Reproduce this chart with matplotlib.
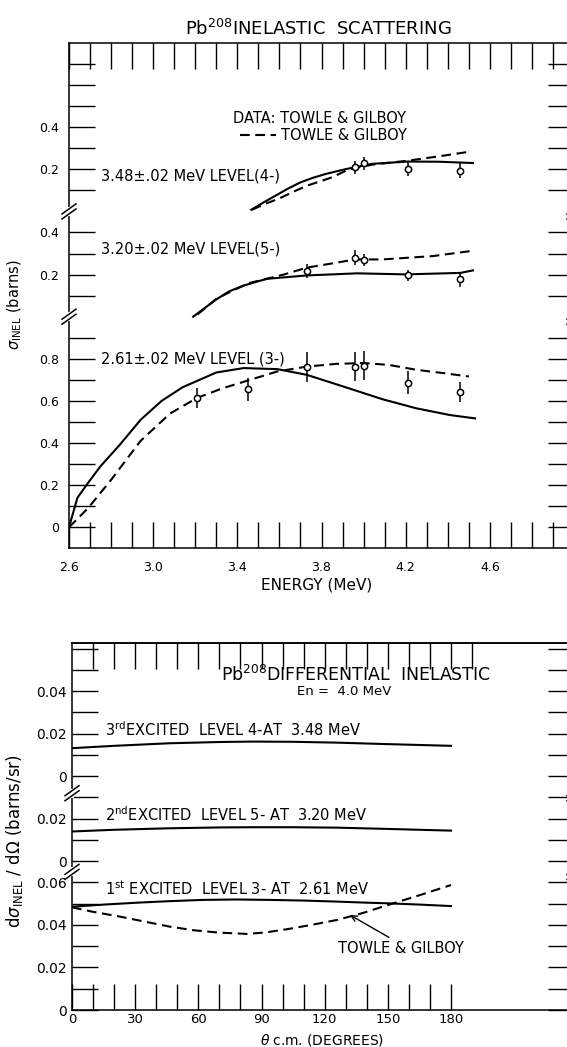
import matplotlib.pyplot as plt
from matplotlib import transforms
from matplotlib.lines import Line2D

plt.rcParams['font.family'] = ['DejaVu Sans']
plt.rcParams['lines.scale_dashes'] = False

# ---- top panel: integrated inelastic cross section (barns) vs energy (MeV)
# every level sits on its own strip of the same axis
off_261 = 0.0
off_320 = 1.0
off_348 = 1.5

# 2.61 MeV level (3-)
e_pts_261 = [3.21, 3.45, 3.73, 3.96, 4.00, 4.21, 4.46]
s_pts_261 = [0.615, 0.655, 0.76, 0.763, 0.767, 0.687, 0.641]
err_261 = [0.048, 0.055, 0.07, 0.07, 0.07, 0.055, 0.048]
e_calc_261 = [2.60, 2.64, 2.69, 2.75, 2.84, 2.94, 3.04, 3.14, 3.30, 3.43, 3.59,
              3.73, 3.93, 4.09, 4.25, 4.41, 4.53]
s_calc_261 = [0.0, 0.14, 0.21, 0.29, 0.39, 0.51, 0.60, 0.665, 0.735, 0.756, 0.751,
              0.724, 0.66, 0.608, 0.565, 0.533, 0.517]
e_tg_261 = [2.60, 2.69, 2.80, 2.94, 3.08, 3.21, 3.33, 3.46, 3.59, 3.73, 3.87,
            4.00, 4.12, 4.25, 4.38, 4.50]
s_tg_261 = [0.0, 0.09, 0.225, 0.41, 0.54, 0.615, 0.66, 0.70, 0.74, 0.763, 0.776,
            0.78, 0.771, 0.748, 0.732, 0.716]

# 3.20 MeV level (5-)
e_pts_320 = [3.73, 3.96, 4.00, 4.21, 4.46]
s_pts_320 = [0.217, 0.28, 0.27, 0.196, 0.177]
err_320 = [0.034, 0.035, 0.03, 0.025, 0.037]
e_calc_320 = [3.19, 3.25, 3.30, 3.36, 3.43, 3.54, 3.73, 3.97, 4.20, 4.46, 4.52]
s_calc_320 = [0.0, 0.045, 0.082, 0.12, 0.148, 0.18, 0.196, 0.206, 0.201, 0.208, 0.22]
e_tg_320 = [3.21, 3.30, 3.38, 3.46, 3.54, 3.62, 3.73, 3.85, 3.96, 4.09, 4.21, 4.33, 4.51]
s_tg_320 = [0.01, 0.085, 0.125, 0.161, 0.18, 0.20, 0.233, 0.253, 0.272, 0.272, 0.28,
            0.288, 0.312]

# 3.48 MeV level (4-)
e_pts_348 = [3.96, 4.00, 4.21, 4.46]
s_pts_348 = [0.21, 0.229, 0.202, 0.194]
err_348 = [0.03, 0.03, 0.035, 0.035]
e_calc_348 = [3.466, 3.52, 3.58, 3.64, 3.70, 3.76, 3.82, 3.92, 4.04, 4.21, 4.36, 4.52]
s_calc_348 = [0.008, 0.04, 0.074, 0.108, 0.138, 0.16, 0.178, 0.202, 0.226, 0.237,
              0.236, 0.23]
e_tg_348 = [3.47, 3.53, 3.60, 3.67, 3.73, 3.80, 3.85, 3.93, 4.04, 4.21, 4.36, 4.505]
s_tg_348 = [0.008, 0.035, 0.062, 0.095, 0.122, 0.145, 0.162, 0.20, 0.222, 0.241,
            0.262, 0.284]

top_ytick_pos = [0, 0.2, 0.4, 0.6, 0.8, 1.2, 1.4, 1.7, 1.9]
top_ytick_lab = ['0', '0.2', '0.4', '0.6', '0.8', '0.2', '0.4', '0.2', '0.4']
top_ytick_minor = [0.1, 0.3, 0.5, 0.7, 0.9, 1.1, 1.3, 1.6, 1.8, 2.0, 2.1, 2.2]
top_xtick_pos = [2.6, 3.0, 3.4, 3.8, 4.2, 4.6]
top_xtick_lab = ['2.6', '3.0', '3.4', '3.8', '4.2', '4.6']
top_xtick_minor = [2.7, 2.8, 2.9, 3.1, 3.2, 3.3, 3.5, 3.6, 3.7, 3.9, 4.0, 4.1,
                   4.3, 4.4, 4.5, 4.7, 4.8, 4.9]

# ---- bottom panel: differential cross section at En = 4.0 MeV
off_1st = 0.0
off_2nd = 0.07
off_3rd = 0.11

th_3rd = [0, 20, 46, 70, 86, 105, 126, 150, 180]
ds_3rd = [0.0132, 0.0143, 0.0155, 0.0161, 0.0163, 0.0162, 0.0158, 0.0151, 0.0143]
th_2nd = [0, 20, 46, 70, 86, 105, 126, 150, 180]
ds_2nd = [0.0140, 0.0148, 0.0155, 0.0159, 0.0160, 0.0160, 0.0158, 0.0152, 0.0144]
th_1st = [0, 15, 31, 46, 62, 78, 94, 110, 126, 140, 150, 165, 180]
ds_1st = [0.0486, 0.0496, 0.0505, 0.0512, 0.0518, 0.0520, 0.0518, 0.0515, 0.0510,
          0.0505, 0.0502, 0.0496, 0.0489]
th_1st_tg = [0, 10, 23, 35, 46.5, 58, 70, 83, 92, 102, 114, 126, 138, 150, 165, 180]
ds_1st_tg = [0.0483, 0.0462, 0.0439, 0.0415, 0.0392, 0.0375, 0.0364, 0.0358, 0.0365,
             0.0380, 0.0401, 0.0424, 0.0456, 0.0494, 0.0540, 0.0588]

bot_ytick_pos = [0, 0.02, 0.04, 0.06, 0.07, 0.09, 0.11, 0.13, 0.15]
bot_ytick_lab = ['0', '0.02', '0.04', '0.06', '0', '0.02', '0', '0.02', '0.04']
bot_ytick_minor = [0.01, 0.03, 0.05, 0.08, 0.10, 0.12, 0.14, 0.16, 0.17]
bot_xtick_pos = [0, 30, 60, 90, 120, 150, 180]
bot_xtick_minor = [10, 20, 40, 50, 70, 80, 100, 110, 130, 140, 160, 170]
bot_top_ticks = [10, 20, 30, 40, 50, 60, 70, 80, 90, 100, 110, 120, 130, 140, 150,
                 160, 170, 180, 190]

W, H = 567, 1047
fig = plt.figure(figsize=(W / 100, H / 100), dpi=100)
ax1 = fig.add_axes([69 / W, 1 - 548.3 / H, 505 / W, 505.3 / H])
ax2 = fig.add_axes([72 / W, 1 - 1010 / H, 502 / W, 366.6 / H])

LW = 1.5
DASH = (7, 4)
TXT = 10.5


def style_axes(ax, lsize):
    for sp in ax.spines.values():
        sp.set_linewidth(1.1)
    ax.tick_params(which='both', direction='in', length=19, width=1.0,
                   labelsize=lsize, right=True)


def add_break(ax, v, px_w, px_per_v):
    # two little parallel slashes cut through both side spines
    tr = transforms.blended_transform_factory(ax.transAxes, ax.transData)
    dx = 7 / px_w
    dy = 5 / px_per_v
    gap = 2.5 / px_per_v
    for xa in (0, 1):
        ax.plot([xa, xa], [v - gap, v + gap], color='white', lw=3,
                transform=tr, clip_on=False, zorder=5)
        for s in (-gap, gap):
            ax.plot([xa - dx, xa + dx], [v + s - dy, v + s + dy], color='k',
                    lw=1.1, transform=tr, clip_on=False, zorder=6)


# ---------------- top panel
style_axes(ax1, 9)
ax1.tick_params(which='both', top=True)
ax1.set_xlim(2.6, 5.0)
ax1.set_ylim(-0.1, 2.3)

for off, ec, sc, et, st, ep, sp, er in [
        (off_261, e_calc_261, s_calc_261, e_tg_261, s_tg_261, e_pts_261, s_pts_261, err_261),
        (off_320, e_calc_320, s_calc_320, e_tg_320, s_tg_320, e_pts_320, s_pts_320, err_320),
        (off_348, e_calc_348, s_calc_348, e_tg_348, s_tg_348, e_pts_348, s_pts_348, err_348)]:
    ax1.plot(ec, [s + off for s in sc], color='k', lw=LW)
    ax1.plot(et, [s + off for s in st], color='k', lw=LW, dashes=DASH)
    ax1.errorbar(ep, [s + off for s in sp], yerr=er, fmt='o', ms=4.5,
                 mfc='white', mec='k', mew=1.1, ecolor='k', elinewidth=1.1,
                 capsize=0, zorder=4)

ax1.set_yticks(top_ytick_pos)
ax1.set_yticklabels(top_ytick_lab)
ax1.set_yticks(top_ytick_minor, minor=True)
ax1.set_xticks(top_xtick_pos)
ax1.set_xticklabels(top_xtick_lab)
ax1.set_xticks(top_xtick_minor, minor=True)
ax1.tick_params(axis='y', pad=7)
ax1.tick_params(axis='x', pad=9)

add_break(ax1, off_320, 505, 209.6)
add_break(ax1, off_348, 505, 209.6)

ax1.text(2.75, 1.67, '3.48±.02 MeV LEVEL(4-)', fontsize=TXT, va='center')
ax1.text(2.75, 1.32, '3.20±.02 MeV LEVEL(5-)', fontsize=TXT, va='center')
ax1.text(2.75, 0.80, '2.61±.02 MeV LEVEL (3-)', fontsize=TXT, va='center')
ax1.text(3.38, 1.94, 'DATA: TOWLE & GILBOY', fontsize=TXT, va='center')
ax1.legend(handles=[Line2D([], [], color='k', lw=LW, dashes=DASH)],
           labels=['TOWLE & GILBOY'], frameon=False, fontsize=TXT,
           loc='center left', bbox_to_anchor=(0.3386, 0.816), borderpad=0,
           borderaxespad=0, handlelength=2.5, handletextpad=0.3)

fig.text(318 / W, 1 - 29 / H, r'Pb$^{208}$INELASTIC  SCATTERING', fontsize=13,
         ha='center', va='center')
fig.text(317 / W, 1 - 585 / H, 'ENERGY (MeV)', fontsize=11, ha='center',
         va='center')
fig.text(15 / W, 1 - 305 / H, r'$\sigma_{\rm INEL}$ (barns)', fontsize=10.5,
         rotation=90, ha='center', va='center')

# ---------------- bottom panel
style_axes(ax2, 10)
ax2.tick_params(axis='x', labelsize=9.5, pad=2.5)
ax2.set_xlim(0, 238.4)
ax2.set_ylim(0, 0.1725)

ax2.plot(th_3rd, [d + off_3rd for d in ds_3rd], color='k', lw=LW)
ax2.plot(th_2nd, [d + off_2nd for d in ds_2nd], color='k', lw=LW)
ax2.plot(th_1st, [d + off_1st for d in ds_1st], color='k', lw=LW)
ax2.plot(th_1st_tg, [d + off_1st for d in ds_1st_tg], color='k', lw=LW, dashes=DASH)

ax2.set_yticks(bot_ytick_pos)
ax2.set_yticklabels(bot_ytick_lab)
ax2.set_yticks(bot_ytick_minor, minor=True)
ax2.set_xticks(bot_xtick_pos)
ax2.set_xticks(bot_xtick_minor, minor=True)
ax2.tick_params(axis='y', pad=4)

sec = ax2.secondary_xaxis('top')
sec.set_xticks(bot_top_ticks)
sec.tick_params(direction='in', length=19, width=1.0, labeltop=False)
sec.spines['top'].set_linewidth(1.1)

add_break(ax2, 0.102, 502, 2125)
add_break(ax2, 0.065, 502, 2125)

ax2.text(70.6, 0.1576, r'Pb$^{208}$DIFFERENTIAL  INELASTIC', fontsize=12.5,
         va='center')
ax2.text(107, 0.1498, 'En =  4.0 MeV', fontsize=9.5, va='center')
ax2.text(15.7, 0.1318, r'3$^{\rm rd}$EXCITED  LEVEL 4-AT  3.48 MeV', fontsize=TXT,
         va='center')
ax2.text(15.7, 0.0918, r'2$^{\rm nd}$EXCITED  LEVEL 5- AT  3.20 MeV', fontsize=TXT,
         va='center')
ax2.text(15.7, 0.0573, r'1$^{\rm st}$ EXCITED  LEVEL 3- AT  2.61 MeV', fontsize=TXT,
         va='center')
ax2.annotate('TOWLE & GILBOY', xy=(132, 0.0447), xytext=(126.5, 0.029),
             fontsize=TXT, va='center',
             arrowprops=dict(arrowstyle='->', color='k', lw=1.0,
                             relpos=(0.45, 1.0), shrinkA=1, shrinkB=0))

fig.text(322 / W, 1 - 1039.5 / H, r'$\theta$ c.m. (DEGREES)', fontsize=10,
         ha='center', va='center')
fig.text(15 / W, 1 - 841 / H, r'd$\sigma_{\rm INEL}$ / d$\Omega$ (barns/sr)',
         fontsize=12, rotation=90, ha='center', va='center')

fig.savefig('out.png', dpi=100)
